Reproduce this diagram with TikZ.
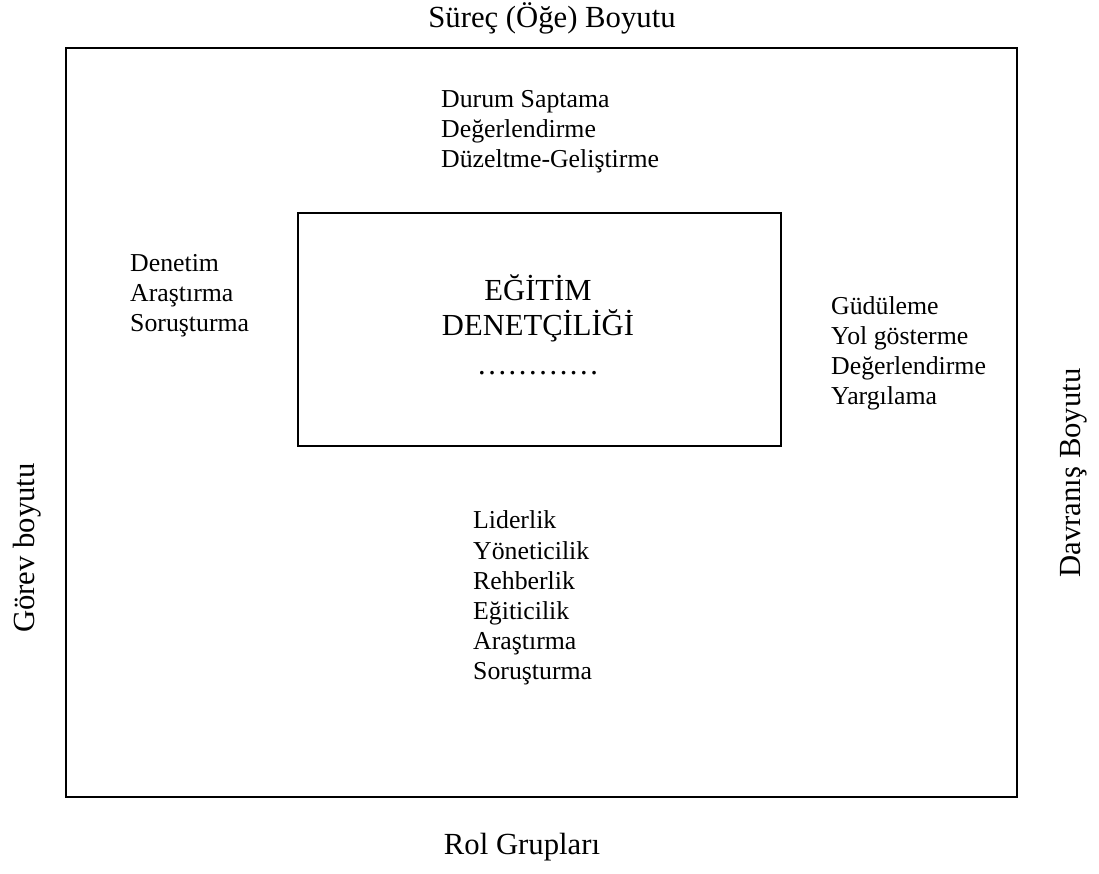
\documentclass[tikz,border=0pt]{standalone}
\usepackage{fontspec}
\setmainfont{Liberation Serif}
\begin{document}
\begin{tikzpicture}[x=1pt,y=-1pt,
  frame/.style={draw=black,line width=1.8pt},
  title/.style={inner sep=0pt,font=\fontsize{30.7}{35}\selectfont},
  itemlist/.style={inner sep=0pt,anchor=west,align=left,font=\fontsize{25.8}{30.1}\selectfont},
  core/.style={inner sep=0pt,align=center,font=\fontsize{30.6}{35}\selectfont}]
\useasboundingbox (0,0) rectangle (1099,873);
% frames
\draw[frame] (66,48) rectangle (1017,797);
\draw[frame] (298,213) rectangle (781,446);
% dimension titles
\node[title] (surec) at (552,18) {Süreç (Öğe) Boyutu};
\node[title] (rol) at (522,847) {Rol Grupları};
\node[title,rotate=90] (gorev) at (27,548) {Görev boyutu};
\node[title,rotate=90] (davranis) at (1074,473) {Davranış Boyutu};
% centre
\node[core] (egitim) at (538,308) {EĞİTİM\\DENETÇİLİĞİ};
\node[core] (dots) at (538,373) {…………};
% lists
\node[itemlist] (surecList) at (441,132) {Durum Saptama\\Değerlendirme\\Düzeltme-Geliştirme};
\node[itemlist] (gorevList) at (130,296) {Denetim\\Araştırma\\Soruşturma};
\node[itemlist] (davList) at (831,353) {Güdüleme\\Yol gösterme\\Değerlendirme\\Yargılama};
\node[itemlist] (rolList) at (473,598) {Liderlik\\Yöneticilik\\Rehberlik\\Eğiticilik\\Araştırma\\Soruşturma};
\end{tikzpicture}
\end{document}
